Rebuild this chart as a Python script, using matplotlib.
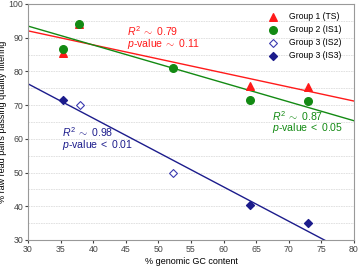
import numpy as np
import matplotlib
matplotlib.use("Agg")
import matplotlib.pyplot as plt

# data
g1_x = [35.3, 37.8, 64.0, 73.0]
g1_y = [85.5, 94.0, 75.6, 75.5]
g2_x = [35.3, 37.8, 52.3, 64.0, 73.0]
g2_y = [86.5, 94.0, 81.0, 71.5, 71.1]
g3a_x = [38.0, 52.3]          # IS2
g3a_y = [70.0, 50.0]
g3b_x = [35.3, 64.0, 73.0]    # IS3
g3b_y = [71.5, 40.3, 35.0]

red = "#ff1a1a"
green = "#138a13"
navy = "#1c1c8c"

plt.rcParams.update({"font.family": "Liberation Sans", "font.size": 6.5,
                     "mathtext.fontset": "custom",
                     "mathtext.it": "Liberation Sans:italic",
                     "mathtext.rm": "Liberation Sans"})
fig = plt.figure(figsize=(3.59, 2.66), dpi=100)
ax = fig.add_axes([0.078, 0.098, 0.908, 0.887])

xx = np.array([30, 80])
# regression lines
k, b = np.polyfit(g1_x, g1_y, 1)
ax.plot(xx, k * xx + b, color=red, lw=1.0, zorder=2)
k, b = np.polyfit(g2_x, g2_y, 1)
ax.plot(xx, k * xx + b, color=green, lw=1.0, zorder=2)
k, b = np.polyfit(g3a_x + g3b_x, g3a_y + g3b_y, 1)
ax.plot(xx, k * xx + b, color=navy, lw=1.0, zorder=2)

ax.scatter(g1_x, g1_y, marker="^", s=30, color=red, label="Group 1 (TS)", zorder=3)
ax.scatter(g2_x, g2_y, marker="o", s=30, color=green, label="Group 2 (IS1)", zorder=4)
ax.scatter(g3a_x, g3a_y, marker="D", s=16, facecolor="white", edgecolor="#3a3ab0",
           lw=0.8, label="Group 3 (IS2)", zorder=3)
ax.scatter(g3b_x, g3b_y, marker="D", s=16, color=navy, label="Group 3 (IS3)", zorder=3)

fs = 7.6
ax.text(45.2, 92.0, r"$R^2\;\sim\;0.79$", color=red, fontsize=fs, va="center")
ax.text(45.2, 88.2, r"$p\text{-value}\;\sim\;0.11$", color=red, fontsize=fs, va="center")
ax.text(67.4, 66.8, r"$R^2\;\sim\;0.87$", color=green, fontsize=fs, va="center")
ax.text(67.4, 63.1, r"$p\text{-value}\;<\;0.05$", color=green, fontsize=fs, va="center")
ax.text(35.2, 62.1, r"$R^2\;\sim\;0.98$", color=navy, fontsize=fs, va="center")
ax.text(35.2, 58.3, r"$p\text{-value}\;<\;0.01$", color=navy, fontsize=fs, va="center")

ax.set_xlim(30, 80)
ax.set_ylim(30, 100)
ax.set_xticks(range(30, 81, 5))
ax.set_yticks(range(30, 101, 10))
ax.set_yticks(range(35, 100, 10), minor=True)
ax.tick_params(which="minor", length=0)
ax.tick_params(labelsize=6.3, colors="#444444", length=2, pad=1.5)
ax.grid(axis="y", which="both", color="#dddddd", lw=0.6, ls=(0, (2, 1)))
ax.set_axisbelow(True)
for s in ax.spines.values():
    s.set_color("#999999")

ax.set_xlabel("% genomic GC content", fontsize=6.5, labelpad=2)
ax.set_ylabel("% raw read pairs passing quality filtering", fontsize=6.5)
ax.yaxis.set_label_coords(-0.063, 0.5)

ax.legend(loc="upper right", frameon=False, fontsize=6.2, handletextpad=1.4,
          labelspacing=0.45, borderaxespad=0, borderpad=0,
          bbox_to_anchor=(0.963, 0.965), handlelength=1.0)

fig.savefig("out.png", dpi=100)
